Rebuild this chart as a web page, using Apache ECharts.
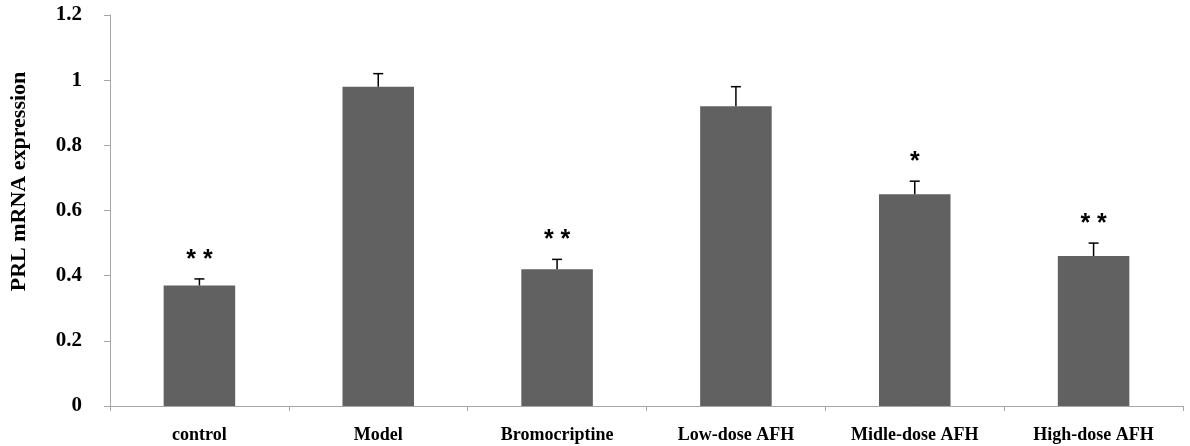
<!DOCTYPE html>
<html>
<head>
<meta charset="utf-8">
<script src="https://cdn.jsdelivr.net/npm/echarts@6/dist/echarts.min.js"></script>
<style>
 html, body { margin: 0; padding: 0; background: #fff; }
 .chart { width: 1190px; height: 446px; }
</style>
</head>
<body>
<div class="chart"></div>
<script>
// 数据
var groups = ['control', 'Model', 'Bromocriptine', 'Low-dose AFH', 'Midle-dose AFH', 'High-dose AFH'];
var means = [0.37, 0.98, 0.42, 0.92, 0.65, 0.46];
var errs = [0.02, 0.04, 0.03, 0.06, 0.04, 0.04];
var marks = ['* *', '', '* *', '', '*', '* *'];
var yTicks = [0, 0.2, 0.4, 0.6, 0.8, 1, 1.2];

var serif = '"Liberation Serif", "Times New Roman", serif';

var myChart = echarts.init(document.querySelector('.chart'));

var errData = groups.map(function (g, i) {
  return [i, means[i], means[i] + errs[i]];
});

var option = {
  animation: false,
  grid: { left: 108, right: 7, top: 15, bottom: 40 },
  xAxis: {
    type: 'category',
    data: groups,
    axisLine: { lineStyle: { color: '#a6a6a6', width: 1 } },
    axisTick: { show: true, length: 5, lineStyle: { color: '#a6a6a6' } },
    axisLabel: {
      color: '#000', fontFamily: serif, fontWeight: 'bold', fontSize: 18, margin: 20
    }
  },
  yAxis: {
    type: 'value',
    min: 0, max: 1.2, interval: 0.2,
    name: 'PRL mRNA expression',
    nameLocation: 'middle',
    nameGap: 80,
    nameTextStyle: { color: '#000', fontFamily: serif, fontWeight: 'bold', fontSize: 22,
      padding: [0, 0, 0, 58] },
    axisLine: { show: true, lineStyle: { color: '#a6a6a6', width: 1 } },
    axisTick: { show: true, length: 6, lineStyle: { color: '#a6a6a6' } },
    splitLine: { show: false },
    axisLabel: {
      color: '#000', fontFamily: serif, fontWeight: 'bold', fontSize: 21, margin: 28,
      formatter: function (v) {
        for (var k = 0; k < yTicks.length; k++) {
          if (Math.abs(yTicks[k] - v) < 1e-9) return String(yTicks[k]);
        }
        return '';
      }
    }
  },
  series: [
    {
      type: 'bar',
      data: means,
      barWidth: '40%',
      itemStyle: { color: '#616161' }
    },
    {
      type: 'custom',
      data: errData,
      z: 5,
      renderItem: function (params, api) {
        var i = api.value(0);
        var p0 = api.coord([i, api.value(1)]);
        var p1 = api.coord([i, api.value(2)]);
        var cap = 5;
        return {
          type: 'group',
          children: [
            { type: 'line', shape: { x1: p0[0], y1: p0[1], x2: p1[0], y2: p1[1] },
              style: { stroke: '#000', lineWidth: 1.5 } },
            { type: 'line', shape: { x1: p1[0] - cap, y1: p1[1], x2: p1[0] + cap, y2: p1[1] },
              style: { stroke: '#000', lineWidth: 1.5 } },
            { type: 'text', x: p1[0], y: p1[1] - 19,
              style: { text: marks[params.dataIndex], align: 'center', verticalAlign: 'middle',
                font: 'bold 25px "Liberation Sans", Arial, sans-serif', fill: '#000' } }
          ]
        };
      }
    }
  ]
};

myChart.setOption(option);
</script>
</body>
</html>
